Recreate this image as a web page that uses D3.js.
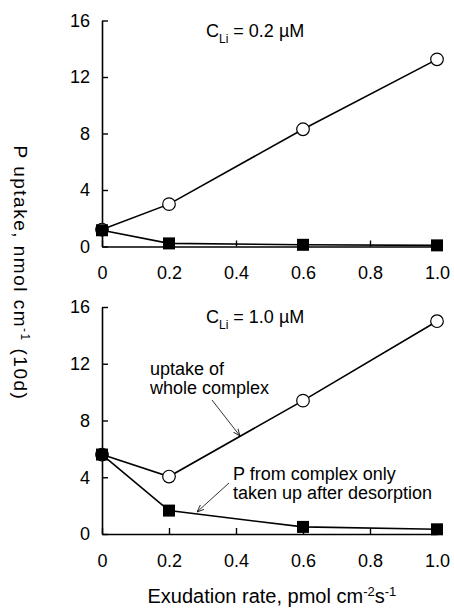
<!DOCTYPE html>
<html>
<head>
<meta charset="utf-8">
<script src="https://cdn.jsdelivr.net/npm/d3@7"></script>
<style>
  body { margin: 0; background: #fff; }
  text { font-family: "Liberation Sans", Arial, sans-serif; fill: #000; }
</style>
</head>
<body>
<svg id="chart" width="454" height="609"></svg>
<script>
// exudation rate, pmol cm-2 s-1
const rates = [0, 0.2, 0.6, 1.0];
const xTicks = [0, 0.2, 0.4, 0.6, 0.8, 1.0];
const yTicks = [0, 4, 8, 12, 16];

// C_Li = 0.2 uM
const wholeLow = [1.2, 3.0, 8.3, 13.25];
const desorbLow = [1.15, 0.22, 0.12, 0.08];
// C_Li = 1.0 uM
const wholeHigh = [5.6, 4.05, 9.4, 15.0];
const desorbHigh = [5.6, 1.65, 0.5, 0.33];

const svg = d3.select("#chart");
const x = d3.scaleLinear().domain([0, 1]).range([102, 437]);

function panel(top, bottom, whole, desorb, conc) {
  const y = d3.scaleLinear().domain([0, 16]).range([bottom, top]);
  const g = svg.append("g");

  // axes with inner ticks
  g.append("g")
    .attr("transform", `translate(0,${bottom})`)
    .call(d3.axisBottom(x).tickValues(xTicks).tickSizeInner(-6).tickSizeOuter(0)
      .tickPadding(20).tickFormat((d) => (d === 0 ? "0" : d3.format(".1f")(d))))
    .call((a) => a.select(".domain").attr("stroke-width", 1.6))
    .call((a) => a.selectAll("line").attr("stroke-width", 1.4))
    .call((a) => a.selectAll("text").style("font-size", "18px").attr("font-family", null));

  g.append("g")
    .attr("transform", `translate(${x(0)},0)`)
    .call(d3.axisLeft(y).tickValues(yTicks).tickSizeInner(-6).tickSizeOuter(0).tickPadding(12))
    .call((a) => a.select(".domain").attr("stroke-width", 1.6))
    .call((a) => a.selectAll("line").attr("stroke-width", 1.4))
    .call((a) => a.selectAll("text").style("font-size", "18px").attr("font-family", null));

  const line = d3.line().x((d, i) => x(rates[i])).y((d) => y(d));

  [desorb, whole].forEach((s) => {
    g.append("path").datum(s).attr("d", line)
      .attr("fill", "none").attr("stroke", "#000").attr("stroke-width", 1.6);
  });

  g.selectAll(".ci").data(whole).join("circle")
    .attr("cx", (d, i) => x(rates[i])).attr("cy", (d) => y(d)).attr("r", 6.3)
    .attr("fill", "#fff").attr("stroke", "#000").attr("stroke-width", 1.2);

  g.selectAll(".sq").data(desorb).join("rect")
    .attr("x", (d, i) => x(rates[i]) - 6).attr("y", (d) => y(d) - 6)
    .attr("width", 12).attr("height", 12).attr("fill", "#000");

  const t = g.append("text").attr("x", 206).attr("y", top + 16).style("font-size", "18px");
  t.append("tspan").text("C");
  t.append("tspan").attr("dy", 6).style("font-size", "12px").text("Li");
  t.append("tspan").attr("dy", -6).text(" = " + conc + " µM");
  return y;
}

panel(20.5, 246.5, wholeLow, desorbLow, "0.2");
panel(307, 534, wholeHigh, desorbHigh, "1.0");

// annotations in lower panel
svg.append("defs").append("marker")
  .attr("id", "ah").attr("viewBox", "0 0 10 10").attr("refX", 10).attr("refY", 5)
  .attr("markerWidth", 9).attr("markerHeight", 9).attr("orient", "auto")
  .append("path").attr("d", "M0,1 L10,5 L0,9").attr("fill", "none").attr("stroke", "#000").attr("stroke-width", 1.1);

const ann = svg.append("g").style("font-size", "18px");
ann.append("text").attr("x", 150).attr("y", 375).text("uptake of");
ann.append("text").attr("x", 150).attr("y", 394).text("whole complex");
ann.append("text").attr("x", 233).attr("y", 480).text("P from complex only");
ann.append("text").attr("x", 233).attr("y", 499).text("taken up after desorption");

ann.append("line").attr("x1", 212).attr("y1", 400).attr("x2", 240).attr("y2", 436)
  .attr("stroke", "#000").attr("stroke-width", 0.8).attr("marker-end", "url(#ah)");
ann.append("line").attr("x1", 229).attr("y1", 483).attr("x2", 197).attr("y2", 512)
  .attr("stroke", "#000").attr("stroke-width", 0.8).attr("marker-end", "url(#ah)");

// axis titles
const yl = svg.append("text")
  .attr("transform", "translate(13.5,273) rotate(90)")
  .attr("text-anchor", "middle").style("font-size", "19px").style("letter-spacing", "1.5px");
yl.append("tspan").text("P uptake, nmol cm");
yl.append("tspan").attr("dy", -7).style("font-size", "12px").text("-1");
yl.append("tspan").attr("dy", 7).text("  (10d)");

const xl = svg.append("text").attr("x", 147.5).attr("y", 603).style("font-size", "20px");
xl.append("tspan").text("Exudation rate, pmol cm");
xl.append("tspan").attr("dy", -7).style("font-size", "13px").text("-2");
xl.append("tspan").attr("dy", 7).text("s");
xl.append("tspan").attr("dy", -7).style("font-size", "13px").text("-1");
</script>
</body>
</html>
